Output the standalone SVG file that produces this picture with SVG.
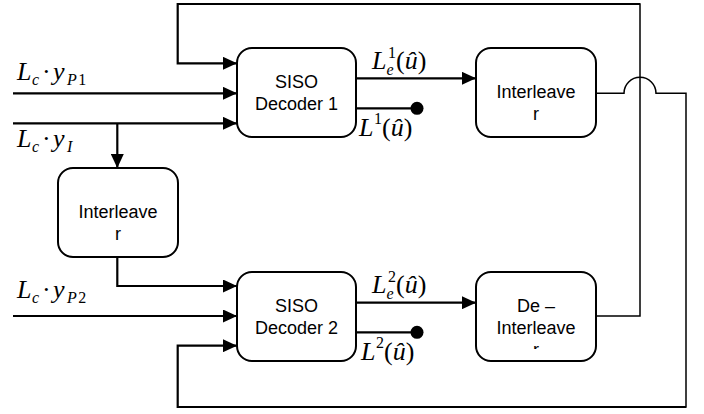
<svg xmlns="http://www.w3.org/2000/svg" width="704" height="414" viewBox="0 0 704 414">
<style>
.box{fill:#fff;stroke:#000;stroke-width:2}
.bt{font-family:"Liberation Sans",Arial,sans-serif;font-size:18px;text-anchor:middle;fill:#000}
.ln{fill:none;stroke:#000;stroke-width:2.2}
.thin{fill:none;stroke:#000;stroke-width:1.5;stroke-linecap:square}
.m{font-family:"Liberation Serif","Times New Roman",serif;font-size:26px;font-style:italic;fill:#000}
.ms{font-family:"Liberation Serif","Times New Roman",serif;font-size:16px;font-style:italic;fill:#000}
.sp{letter-spacing:1.5px}
.up{font-style:normal}
</style>
<defs>
<marker id="arr" markerUnits="userSpaceOnUse" markerWidth="14" markerHeight="13" refX="14" refY="6.5" orient="auto">
<path d="M0,0 L14,6.5 L0,13 Z" fill="#000"/>
</marker>
<clipPath id="clipDe"><rect x="476" y="272" width="120" height="77"/></clipPath>
</defs>

<g id="connectors">
<path class="ln" d="M13,93.3 H237" marker-end="url(#arr)"/>
<path class="ln" d="M13,123.3 H237" marker-end="url(#arr)"/>
<path class="ln" d="M117.3,123.3 V168" marker-end="url(#arr)"/>
<path class="ln" d="M117.3,257 V286 H237" marker-end="url(#arr)"/>
<path class="ln" d="M13,316 H237" marker-end="url(#arr)"/>
<path class="thin" d="M596,316 H640 V4"/>
<path class="ln" d="M640,4 H177.7 V63.3 H237" marker-end="url(#arr)"/>
<path class="thin" d="M596,93.3 H624 A16,16 0 0 1 656,93.3 H686 V407"/>
<path class="ln" d="M686,407 H177.7 V345.7 H237" marker-end="url(#arr)"/>
<path class="ln" d="M356,78.3 H476" marker-end="url(#arr)"/>
<path class="ln" d="M356,302.7 H476" marker-end="url(#arr)"/>
<path class="ln" d="M356,108.3 H417"/>
<circle cx="417" cy="108.3" r="6.5" fill="#000"/>
<path class="ln" d="M356,332.3 H417"/>
<circle cx="417" cy="332.3" r="6.5" fill="#000"/>
</g>

<g id="siso1">
<rect class="box" x="237" y="48" width="119" height="89" rx="15"/>
<text class="bt" x="296.5" y="88">SISO</text>
<text class="bt" x="296.5" y="110">Decoder 1</text>
</g>
<g id="interleaver1">
<rect class="box" x="476" y="48" width="120" height="89" rx="15"/>
<text class="bt" x="536" y="98">Interleave</text>
<text class="bt" x="536" y="120">r</text>
</g>
<g id="interleaver0">
<rect class="box" x="58" y="168" width="120" height="89" rx="15"/>
<text class="bt" x="118" y="218">Interleave</text>
<text class="bt" x="118" y="240">r</text>
</g>
<g id="siso2">
<rect class="box" x="237" y="272" width="119" height="89" rx="15"/>
<text class="bt" x="296.5" y="312">SISO</text>
<text class="bt" x="296.5" y="334">Decoder 2</text>
</g>
<g id="deinterleaver">
<rect class="box" x="476" y="272" width="120" height="89" rx="15"/>
<g clip-path="url(#clipDe)">
<text class="bt" x="536" y="312">De –</text>
<text class="bt" x="536" y="334">Interleave</text>
<text class="bt" x="536" y="356">r</text>
</g>
</g>

<g id="labels">
<text class="m" x="17" y="80">L</text><text class="ms" x="32" y="85">c</text><text class="m up" x="42" y="80">·</text><text class="m" x="53" y="80">y</text><text class="ms sp" x="67" y="85">P<tspan class="up">1</tspan></text>
<text class="m" x="17" y="147">L</text><text class="ms" x="32" y="152">c</text><text class="m up" x="42" y="147">·</text><text class="m" x="53" y="147">y</text><text class="ms" x="67" y="152">I</text>
<text class="m" x="17" y="298">L</text><text class="ms" x="32" y="303">c</text><text class="m up" x="42" y="298">·</text><text class="m" x="53" y="298">y</text><text class="ms sp" x="67" y="303">P<tspan class="up">2</tspan></text>

<text class="m" x="372" y="69">L</text><text class="ms" x="386.5" y="75">e</text><text class="ms up" x="388" y="58">1</text><text class="m" x="396" y="69"><tspan class="up">(</tspan>û<tspan class="up">)</tspan></text>
<text class="m" x="359" y="136">L</text><text class="ms up" x="374" y="124">1</text><text class="m" x="382" y="136"><tspan class="up">(</tspan>û<tspan class="up">)</tspan></text>
<text class="m" x="372" y="293">L</text><text class="ms" x="386.5" y="299">e</text><text class="ms up" x="388" y="282">2</text><text class="m" x="396" y="293"><tspan class="up">(</tspan>û<tspan class="up">)</tspan></text>
<text class="m" x="361" y="360">L</text><text class="ms up" x="376" y="348">2</text><text class="m" x="384" y="360"><tspan class="up">(</tspan>û<tspan class="up">)</tspan></text>
</g>
</svg>
